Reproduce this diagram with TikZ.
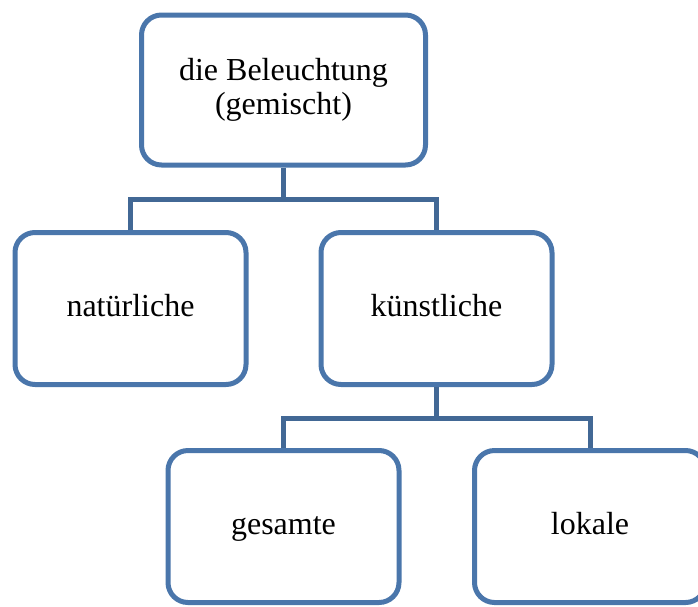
\documentclass[tikz,border=0pt]{standalone}
\usepackage{fontspec}
\setmainfont{Liberation Serif}
\definecolor{boxblue}{HTML}{4A76AB}
\definecolor{linkblue}{HTML}{426895}
\tikzset{
  termbox/.style={draw=boxblue, line width=5pt, rounded corners=20pt, fill=white,
    align=center, inner sep=0pt, text height=22pt, text depth=7pt,
    font=\fontsize{32}{34}\selectfont},
  link/.style={draw=linkblue, line width=5pt}
}

\begin{document}
\begin{tikzpicture}[x=1pt,y=-1pt]
  \useasboundingbox (0,0) rectangle (698,606);
  \node[termbox, text height={}, text depth={}, minimum width=284pt, minimum height=150pt] (beleuchtung) at (283.5,90) {die Beleuchtung\\(gemischt)};
  \node[termbox, minimum width=231pt, minimum height=152pt] (natuerlich) at (130.5,308.5) {nat\"urliche};
  \node[termbox, minimum width=231pt, minimum height=152pt] (kuenstlich) at (436.5,308.5) {k\"unstliche};
  \node[termbox, minimum width=231pt, minimum height=152pt] (gesamt) at (283.5,526.5) {gesamte};
  \node[termbox, minimum width=231pt, minimum height=152pt] (lokal) at (590,526.5) {lokale};

  \coordinate (bus1) at (283.5,199);
  \coordinate (bus2) at (436.5,418);
  \draw[link] (beleuchtung.south) -- (bus1);
  \draw[link] (natuerlich.north) |- (bus1) -| (kuenstlich.north);
  \draw[link] (kuenstlich.south) -- (bus2);
  \draw[link] (gesamt.north) |- (bus2) -| (lokal.north);
\end{tikzpicture}
\end{document}
